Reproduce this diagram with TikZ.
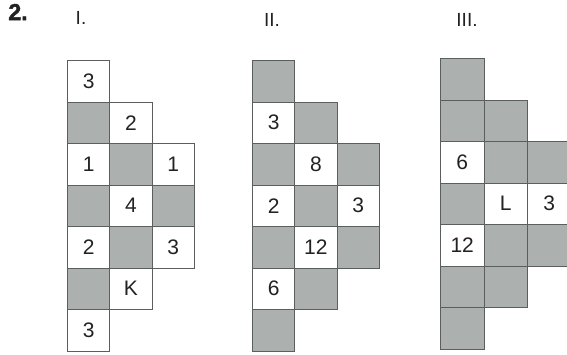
\documentclass[tikz,border=0pt]{standalone}
\usepackage{fontspec}
\setmainfont{Liberation Sans}
\definecolor{cellgray}{HTML}{ACB1B0}
\definecolor{cellline}{HTML}{5A5E5E}
\definecolor{ink}{HTML}{222222}
\tikzset{
  cellbase/.style={draw=cellline, line width=0.9pt, anchor=north west, inner sep=0pt,
    minimum width=42.3pt, minimum height=41.5pt, text=ink, font=\fontsize{21}{21}\selectfont},
  wcell/.style={cellbase, fill=white},
  gcell/.style={cellbase, fill=cellgray},
  wcellw/.style={wcell, minimum width=43.5pt},
  gcellw/.style={gcell, minimum width=43.5pt},
  lab/.style={text=ink, font=\fontsize{19}{19}\selectfont}
}
\newcommand\cl[5]{\node[#4] (#1) at (#2,#3) {#5};}
\begin{document}
\begin{tikzpicture}[x=1pt,y=-1pt]
\useasboundingbox (0,0) rectangle (567,354);
\clip (0,0) rectangle (567,354);
% labels
\node[text=ink, font=\fontsize{23}{23}\bfseries\selectfont\addfontfeatures{FakeBold=2}, anchor=center] (num) at (18,12) {2.};
\node[lab] (l1) at (81,18) {I.};
\node[lab] (l2) at (272,20) {II.};
\node[lab] (l3) at (467,20) {III.};
% Grid I
\cl{a00}{67}{60}{wcell}{3}
\cl{a01}{67}{101.5}{gcell}{}
\cl{a02}{67}{143}{wcell}{1}
\cl{a03}{67}{184.5}{gcell}{}
\cl{a04}{67}{226}{wcell}{2}
\cl{a05}{67}{267.5}{gcell}{}
\cl{a06}{67}{309}{wcell}{3}
\cl{a11}{109.3}{101.5}{wcell}{2}
\cl{a12}{109.3}{143}{gcell}{}
\cl{a13}{109.3}{184.5}{wcell}{4}
\cl{a14}{109.3}{226}{gcell}{}
\cl{a15}{109.3}{267.5}{wcell}{K}
\cl{a22}{151.6}{143}{wcell}{1}
\cl{a23}{151.6}{184.5}{gcell}{}
\cl{a24}{151.6}{226}{wcell}{3}
% Grid II
\cl{b00}{252}{60}{gcell}{}
\cl{b01}{252}{101.5}{wcell}{3}
\cl{b02}{252}{143}{gcell}{}
\cl{b03}{252}{184.5}{wcell}{2}
\cl{b04}{252}{226}{gcell}{}
\cl{b05}{252}{267.5}{wcell}{6}
\cl{b06}{252}{309}{gcell}{}
\cl{b11}{294.3}{101.5}{gcell}{}
\cl{b12}{294.3}{143}{wcell}{8}
\cl{b13}{294.3}{184.5}{gcell}{}
\cl{b14}{294.3}{226}{wcell}{12}
\cl{b15}{294.3}{267.5}{gcell}{}
\cl{b22}{336.6}{143}{gcell}{}
\cl{b23}{336.6}{184.5}{wcell}{3}
\cl{b24}{336.6}{226}{gcell}{}
% Grid III
\cl{c00}{440}{58}{gcellw}{}
\cl{c01}{440}{99.5}{gcellw}{}
\cl{c02}{440}{141}{wcellw}{6}
\cl{c03}{440}{182.5}{gcellw}{}
\cl{c04}{440}{224}{wcellw}{12}
\cl{c05}{440}{265.5}{gcellw}{}
\cl{c06}{440}{307}{gcellw}{}
\cl{c11}{483.5}{99.5}{gcellw}{}
\cl{c12}{483.5}{141}{gcellw}{}
\cl{c13}{483.5}{182.5}{wcellw}{L}
\cl{c14}{483.5}{224}{gcellw}{}
\cl{c15}{483.5}{265.5}{gcellw}{}
\cl{c22}{527}{141}{gcellw}{}
\cl{c23}{527}{182.5}{wcellw}{3}
\cl{c24}{527}{224}{gcellw}{}
\end{tikzpicture}
\end{document}
